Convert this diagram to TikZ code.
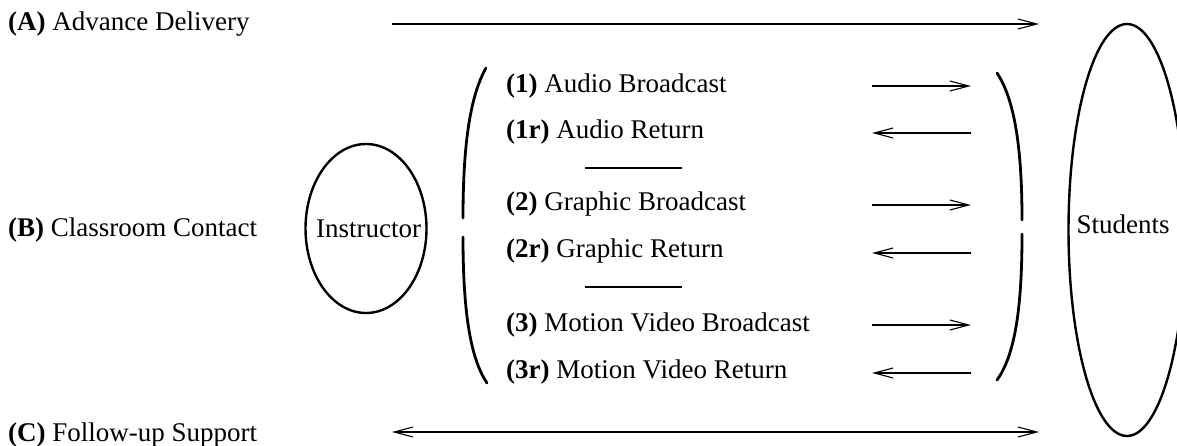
\documentclass[tikz,border=0pt]{standalone}
\usepackage{fontspec}
\setmainfont{Liberation Serif}
\usetikzlibrary{arrows.meta,shapes.geometric}
\tikzset{
  txt/.style={font=\fontsize{27pt}{30pt}\selectfont, inner sep=0pt, anchor=base west},
  ctxt/.style={font=\fontsize{27pt}{30pt}\selectfont, inner sep=0pt},
  thin arrow/.style={line width=1.1pt, -{Straight Barb[length=19pt,width=10pt,line width=1.1pt]}},
  both arrow/.style={line width=1.1pt, {Straight Barb[length=19pt,width=10pt,line width=1.1pt]}-{Straight Barb[length=19pt,width=10pt,line width=1.1pt]}},
  oval/.style={draw, ellipse, line width=2.4pt, inner sep=0pt},
  bracket/.style={line width=2.8pt, line cap=round},
  sepline/.style={line width=2pt}
}
\begin{document}
\begin{tikzpicture}[x=1pt,y=-1pt]
\useasboundingbox (0,0) rectangle (1177,446);
% left labels
\node[txt] (A) at (8,31) {\textbf{(A)} Advance Delivery};
\node[txt] (B) at (8,237) {\textbf{(B)} Classroom Contact};
\node[txt] (C) at (8,441) {\textbf{(C)} Follow-up Support};
% ovals
\node[oval, minimum width=121pt, minimum height=169pt] (instr) at (366,228.5) {};
\node[ctxt] (instrtext) at (368.5,228.5) {Instructor};
\node[oval, minimum width=117pt, minimum height=412pt] (stud) at (1127,230) {};
\node[ctxt] (studtext) at (1123,224) {Students};
% middle labels
\node[txt] (m1) at (506,93) {\textbf{(1)} Audio Broadcast};
\node[txt] (m1r) at (506,139) {\textbf{(1r)} Audio Return};
\node[txt] (m2) at (506,211) {\textbf{(2)} Graphic Broadcast};
\node[txt] (m2r) at (506,258) {\textbf{(2r)} Graphic Return};
\node[txt] (m3) at (506,331) {\textbf{(3)} Motion Video Broadcast};
\node[txt] (m3r) at (506,378) {\textbf{(3r)} Motion Video Return};
% separators
\coordinate (s1a) at (585,168); \coordinate (s1b) at (682,168);
\coordinate (s2a) at (585,287); \coordinate (s2b) at (682,287);
\draw[sepline] (s1a) -- (s1b);
\draw[sepline] (s2a) -- (s2b);
% brackets
\draw[bracket] (486,68) .. controls (469,98) and (463,150) .. (463,218);
\draw[bracket] (463,237) .. controls (463,310) and (470,358) .. (487,383);
\draw[bracket] (997,73) .. controls (1015,100) and (1022,150) .. (1022,220);
\draw[bracket] (1022,234) .. controls (1022,308) and (1015,355) .. (997,380);
% long arrows
\coordinate (aS) at (392,24); \coordinate (aE) at (1039,24);
\coordinate (cS) at (392,432); \coordinate (cE) at (1039,432);
\draw[thin arrow] (aS) -- (aE);
\draw[both arrow] (cS) -- (cE);
% short arrows
\foreach \y/\n in {86/r1,205/r2,325/r3}{
  \coordinate (\n a) at (872,\y); \coordinate (\n b) at (971,\y);
  \draw[thin arrow] (\n a) -- (\n b);
}
\foreach \y/\n in {133/l1,253/l2,373/l3}{
  \coordinate (\n a) at (971,\y); \coordinate (\n b) at (872,\y);
  \draw[thin arrow] (\n a) -- (\n b);
}
\end{tikzpicture}
\end{document}
